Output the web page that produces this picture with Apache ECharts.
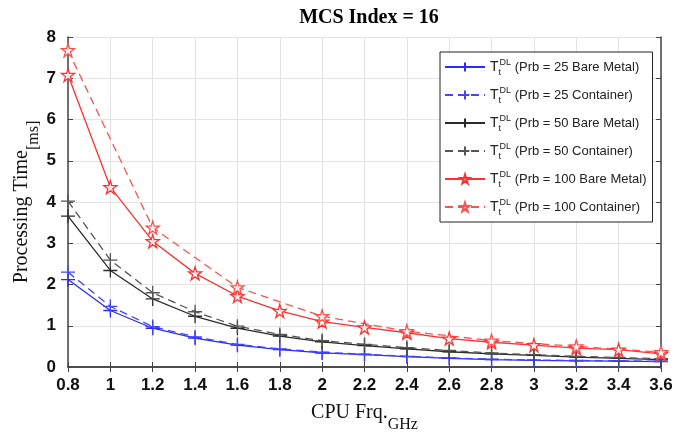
<!DOCTYPE html>
<html>
<head>
<meta charset="utf-8">
<script src="https://cdn.jsdelivr.net/npm/echarts@6/dist/echarts.min.js"></script>
<style>html,body{margin:0;padding:0;background:#fff}#c{width:674px;height:437px}</style>
</head>
<body>
<div id="c"></div>
<script>
var categories = ['0.8','1','1.2','1.4','1.6','1.8','2','2.2','2.4','2.6','2.8','3','3.2','3.4','3.6'];
var yTicks = [0,1,2,3,4,5,6,7,8];
var seriesNames = ['Prb = 25 Bare Metal','Prb = 25 Container','Prb = 50 Bare Metal','Prb = 50 Container','Prb = 100 Bare Metal','Prb = 100 Container'];
var blueBare  = [2.12,1.37,0.94,0.70,0.53,0.42,0.34,0.30,0.25,0.21,0.18,0.16,0.15,0.14,0.13];
var blueCont  = [2.30,1.47,0.98,0.73,0.55,0.44,0.36,0.31,0.26,0.22,0.19,0.17,0.16,0.15,0.14];
var blackBare = [3.66,2.34,1.65,1.23,0.94,0.75,0.61,0.52,0.44,0.37,0.32,0.28,0.24,0.21,0.18];
var blackCont = [4.02,2.59,1.80,1.34,0.99,0.79,0.64,0.55,0.47,0.40,0.34,0.30,0.26,0.23,0.20];
var redBare   = [7.08,4.36,3.05,2.27,1.72,1.36,1.10,0.96,0.83,0.69,0.60,0.53,0.46,0.42,0.32];
var redCont   = [7.68,null,3.38,null,1.93,null,1.23,null,0.87,null,0.64,null,0.50,null,0.36];

var PLUS = 'path://M0,10L20,10M10,0L10,20';
var STAR = 'path://M50,0L61,35L98,35L68,57L79,91L50,70L21,91L32,57L2,35L39,35Z';

function mk(name, data, color, dashed, symbol, size, fill) {
  return {
    name: name, type: 'line', data: data, connectNulls: true,
    symbol: symbol, symbolSize: size, showSymbol: true,
    lineStyle: { color: color, width: 1.3, type: dashed ? [8,5] : 'solid' },
    itemStyle: { color: fill, borderColor: color, borderWidth: 1.3 },
    emphasis: { disabled: true }, animation: false, z: 3
  };
}

var chart = echarts.init(document.getElementById('c'), null, { renderer: 'canvas' });
var labelFont = { fontFamily: 'Liberation Sans, Arial', fontWeight: 'bold', fontSize: 17, color: '#111' };
chart.setOption({
  animation: false,
  title: {
    text: 'MCS Index = 16', left: 364, top: 3, textAlign: 'center',
    textStyle: { fontFamily: 'Liberation Serif, Times New Roman', fontWeight: 'bold', fontSize: 20, color: '#000' }
  },
  grid: { left: 68, right: 13, top: 37, bottom: 70, containLabel: false, outerBoundsMode: 'none' },
  legend: {
    orient: 'vertical', left: 440, top: 52,
    backgroundColor: '#fff', borderColor: '#222', borderWidth: 1,
    padding: [4, 6, 4, 4], itemWidth: 40, itemHeight: 11, itemGap: 6,
    data: seriesNames,
    formatter: function (n) { return '{T|T}{sub|t}{sup|DL}{n| (' + n + ')}'; },
    textStyle: {
      color: '#222', fontFamily: 'Liberation Sans, Arial', fontSize: 13,
      rich: {
        T: { fontSize: 14, fontFamily: 'Liberation Sans, Arial', color: '#222', lineHeight: 22, verticalAlign: 'middle' },
        sub: { fontSize: 9, fontFamily: 'Liberation Sans, Arial', color: '#222', width: 1, lineHeight: 22, verticalAlign: 'bottom', padding: [0,0,1,0] },
        sup: { fontSize: 9, fontFamily: 'Liberation Sans, Arial', color: '#222', lineHeight: 22, verticalAlign: 'top', padding: [2,0,0,0] },
        n: { fontSize: 13, fontFamily: 'Liberation Sans, Arial', color: '#222', lineHeight: 22, verticalAlign: 'middle' }
      }
    }
  },
  xAxis: [{
    type: 'category', data: categories, boundaryGap: false, position: 'bottom',
    name: '{a|CPU Frq.}{s|GHz}', nameLocation: 'middle', nameGap: 36, nameMoveOverlap: false,
    nameTextStyle: { rich: {
      a: { fontFamily: 'Liberation Serif, Times New Roman', fontSize: 20, color: '#111', verticalAlign: 'top', lineHeight: 30 },
      s: { fontFamily: 'Liberation Serif, Times New Roman', fontSize: 16, color: '#111', verticalAlign: 'bottom', lineHeight: 30 }
    } },
    axisLine: { lineStyle: { color: '#444', width: 1.5 } },
    axisTick: { inside: true, length: 5, lineStyle: { color: '#444' } },
    axisLabel: Object.assign({ margin: 10, interval: 0 }, labelFont),
    splitLine: { show: true, lineStyle: { color: '#e3e3e3', width: 1 } }
  }, {
    type: 'category', data: categories, boundaryGap: false, position: 'top',
    axisLine: { lineStyle: { color: '#444', width: 1.5 } },
    axisTick: { inside: true, length: 5, lineStyle: { color: '#444' } },
    axisLabel: { show: false }, splitLine: { show: false }
  }],
  yAxis: [{
    type: 'value', min: yTicks[0], max: yTicks[yTicks.length - 1], interval: 1,
    name: '{a|Processing Time}{s|[ms]}', nameLocation: 'middle', nameRotate: 90, nameGap: 26, nameMoveOverlap: false,
    nameTextStyle: { rich: {
      a: { fontFamily: 'Liberation Serif, Times New Roman', fontSize: 20, color: '#111', verticalAlign: 'top', lineHeight: 30 },
      s: { fontFamily: 'Liberation Serif, Times New Roman', fontSize: 16, color: '#111', verticalAlign: 'bottom', lineHeight: 30 }
    } },
    axisLine: { show: true, lineStyle: { color: '#444', width: 1.5 } },
    axisTick: { show: true, inside: true, length: 5, lineStyle: { color: '#444' } },
    axisLabel: Object.assign({ margin: 12 }, labelFont),
    splitLine: { show: true, lineStyle: { color: '#e3e3e3', width: 1 } }
  }, {
    type: 'value', min: yTicks[0], max: yTicks[yTicks.length - 1], interval: 1, position: 'right',
    axisLine: { show: true, lineStyle: { color: '#444', width: 1.5 } },
    axisTick: { show: true, inside: true, length: 5, lineStyle: { color: '#444' } },
    axisLabel: { show: false }, splitLine: { show: false }
  }],
  series: [
    mk(seriesNames[0], blueBare, '#2a2aff', false, PLUS, 14, 'transparent'),
    mk(seriesNames[1], blueCont, '#4545ff', true, PLUS, 14, 'transparent'),
    mk(seriesNames[2], blackBare, '#2b2b2b', false, PLUS, 14, 'transparent'),
    mk(seriesNames[3], blackCont, '#555555', true, PLUS, 14, 'transparent'),
    mk(seriesNames[4], redBare, '#ff3030', false, STAR, 13, 'rgba(255,255,255,0.85)'),
    mk(seriesNames[5], redCont, '#ff5050', true, STAR, 13, 'rgba(255,255,255,0.85)')
  ]
});
</script>
</body>
</html>
